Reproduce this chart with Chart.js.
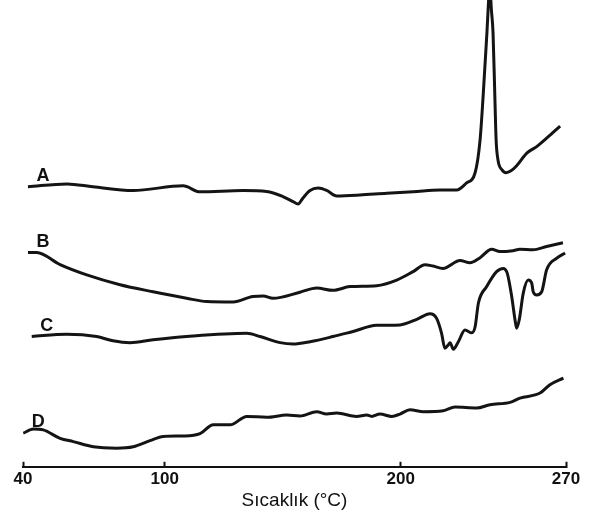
<!DOCTYPE html>
<html>
<head>
<meta charset="utf-8">
<script src="https://cdn.jsdelivr.net/npm/chart.js@4/dist/chart.umd.min.js"></script>
<style>
  html, body { margin: 0; padding: 0; background: #fff; }
  #wrap { width: 611px; height: 517px; }
</style>
</head>
<body>
<div id="wrap"><canvas id="dsc"></canvas></div>
<script>
// DSC thermograms, temperature in °C, heat flow in arbitrary (offset) units
const curveNames = ['A', 'B', 'C', 'D'];
const xTicks = [40, 100, 200, 270];

const tempA = [42.1, 58.6, 69.6, 86.6, 107.8, 115.0, 133.2, 143.2, 150.1, 154.4, 156.5, 158.6, 161.6, 165.0, 168.6, 172.9, 182.7, 194.1, 205.2, 216.6, 223.7, 227.9, 231.5, 233.6, 234.8, 236.5, 237.0, 237.7, 238.4, 239.1, 239.9, 240.4, 241.2, 242.9, 244.6, 246.7, 249.1, 253.4, 257.6, 261.8, 267.5];
const flowA = [60.0, 60.6, 60.0, 59.2, 60.2, 58.9, 59.2, 59.0, 57.9, 56.8, 56.3, 57.6, 59.2, 59.7, 59.2, 58.0, 58.2, 58.6, 58.9, 59.3, 59.3, 60.8, 63.0, 70.0, 78.6, 92.9, 97.9, 103.0, 97.9, 92.9, 78.6, 70.0, 65.7, 63.6, 63.0, 63.4, 64.5, 67.2, 68.6, 70.4, 73.0];

const tempB = [42.1, 45.8, 55.7, 67.0, 81.1, 95.1, 109.3, 117.8, 129.0, 137.4, 141.7, 145.9, 157.3, 164.4, 171.3, 178.5, 189.8, 198.3, 205.2, 210.3, 213.7, 217.9, 225.1, 229.3, 233.6, 238.5, 242.0, 247.5, 250.5, 256.0, 261.8, 268.7];
const flowB = [45.9, 45.9, 43.3, 41.1, 39.0, 37.5, 36.1, 35.4, 35.3, 36.5, 36.6, 36.1, 37.4, 38.3, 37.8, 38.6, 38.8, 40.0, 41.8, 43.3, 43.0, 42.5, 44.2, 43.7, 44.8, 46.6, 46.1, 46.3, 46.6, 46.5, 47.2, 48.0];

const tempC = [43.7, 58.5, 71.2, 78.1, 85.3, 95.1, 109.3, 134.8, 140.4, 148.9, 154.4, 161.6, 171.3, 179.8, 189.8, 199.7, 206.8, 212.4, 215.2, 217.3, 218.7, 220.1, 220.9, 222.3, 224.4, 227.2, 230.1, 231.5, 232.9, 236.4, 240.6, 243.4, 245.1, 247.0, 248.4, 249.1, 250.2, 251.9, 254.0, 255.5, 256.1, 257.6, 259.7, 261.8, 266.1, 269.6];
const flowC = [27.9, 28.4, 27.9, 27.0, 26.6, 27.2, 27.9, 28.6, 27.9, 26.6, 26.3, 26.8, 27.9, 29.0, 30.3, 30.4, 31.6, 32.8, 31.8, 28.6, 25.4, 26.1, 26.6, 25.2, 26.8, 29.3, 28.7, 30.0, 35.1, 38.6, 41.8, 42.5, 41.5, 36.5, 31.5, 29.7, 31.5, 37.2, 40.0, 39.3, 37.5, 36.8, 37.5, 42.2, 44.7, 45.8];

const tempD = [40.1, 44.4, 48.6, 55.7, 61.3, 69.8, 79.7, 86.7, 93.8, 99.4, 107.9, 115.0, 120.6, 127.7, 134.8, 143.2, 151.7, 157.3, 164.4, 168.6, 172.9, 181.3, 185.6, 187.7, 191.2, 196.2, 199.7, 203.9, 209.6, 218.0, 223.0, 232.2, 237.8, 246.3, 250.5, 259.0, 263.2, 268.9];
const flowD = [7.2, 8.1, 7.9, 6.1, 5.4, 4.3, 4.0, 4.3, 5.6, 6.5, 6.6, 7.1, 9.0, 9.0, 10.8, 10.6, 11.1, 10.9, 11.8, 11.3, 11.5, 10.8, 11.1, 10.8, 11.3, 10.8, 11.3, 12.2, 11.8, 12.0, 12.8, 12.6, 13.3, 13.8, 14.7, 15.8, 17.6, 19.0];

const temps = [tempA, tempB, tempC, tempD];
const flows = [flowA, flowB, flowC, flowD];

function toPoints(xs, ys) {
    return xs.map((x, i) => ({ x: x, y: ys[i] }));
}

// writes the curve letter just above the start of each trace
const curveLetters = {
    id: 'curveLetters',
    afterDatasetsDraw(chart) {
        const ctx = chart.ctx;
        ctx.save();
        ctx.font = 'bold 18px "Liberation Sans", Arial, sans-serif';
        ctx.fillStyle = '#111';
        ctx.textAlign = 'center';
        ctx.textBaseline = 'middle';
        chart.data.datasets.forEach((ds, i) => {
            const first = chart.getDatasetMeta(i).data[0];
            ctx.fillText(ds.label, first.x + 15, first.y - 11);
        });
        ctx.restore();
    }
};

new Chart(document.getElementById('dsc'), {
    type: 'line',
    data: {
        datasets: curveNames.map((name, i) => ({
            label: name,
            data: toPoints(temps[i], flows[i]),
            borderColor: '#141414',
            borderWidth: 3,
            pointRadius: 0,
            fill: false,
            cubicInterpolationMode: 'monotone'
        }))
    },
    options: {
        responsive: true,
        maintainAspectRatio: false,
        animation: false,
        layout: { padding: { left: 23, right: 45, top: 0, bottom: 0 } },
        plugins: {
            legend: { display: false },
            tooltip: { enabled: false }
        },
        scales: {
            x: {
                type: 'linear',
                min: 40,
                max: 270,
                afterBuildTicks: scale => {
                    scale.ticks = xTicks.map(v => ({ value: v }));
                },
                grid: {
                    drawOnChartArea: false,
                    tickLength: -5,
                    tickWidth: 2,
                    color: '#111'
                },
                border: { display: true, color: '#111', width: 2 },
                ticks: {
                    padding: 7,
                    color: '#111',
                    maxRotation: 0,
                    font: { family: '"Liberation Sans", Arial, sans-serif', size: 17, weight: 'bold' }
                },
                title: {
                    display: true,
                    text: 'Sıcaklık (°C)',
                    color: '#111',
                    padding: { top: -7, bottom: 5 },
                    font: { family: '"Liberation Sans", Arial, sans-serif', size: 19 }
                }
            },
            y: {
                display: false,
                min: 0,
                max: 100
            }
        }
    },
    plugins: [curveLetters]
});
</script>
</body>
</html>
